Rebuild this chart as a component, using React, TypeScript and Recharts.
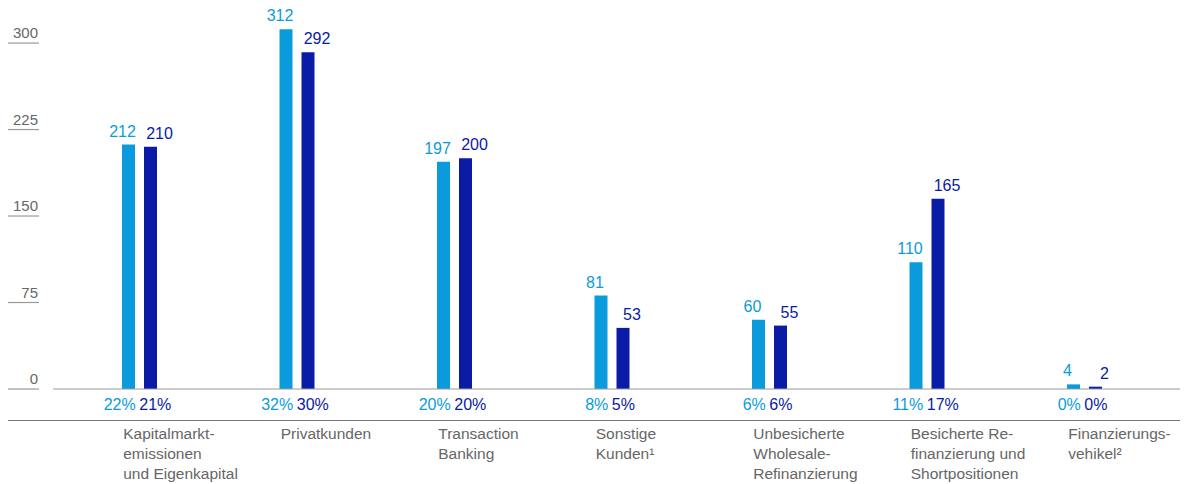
import React from 'react';
import { BarChart, Bar, XAxis, YAxis, LabelList } from 'recharts';

const categories = [
  'Kapitalmarkt-\nemissionen\nund Eigenkapital',
  'Privatkunden',
  'Transaction\nBanking',
  'Sonstige\nKunden¹',
  'Unbesicherte\nWholesale-\nRefinanzierung',
  'Besicherte Re-\nfinanzierung und\nShortpositionen',
  'Finanzierungs-\nvehikel²',
];
const valuesLight = [212, 312, 197, 81, 60, 110, 4];
const valuesDark = [210, 292, 200, 53, 55, 165, 2];
const sharesLight = ['22%', '32%', '20%', '8%', '6%', '11%', '0%'];
const sharesDark = ['21%', '30%', '20%', '5%', '6%', '17%', '0%'];
const yTicks = [0, 75, 150, 225, 300];

const LIGHT = '#0A9BDC';
const DARK = '#0A1BA6';
const GREY = '#666666';
const FONT = '"Liberation Sans", Arial, sans-serif';

const data = categories.map((name, i) => ({
  name,
  light: valuesLight[i],
  dark: valuesDark[i],
}));

const YTick = ({ y, payload }: any) => (
  <g>
    <text x={38} y={y - 5} textAnchor="end" fill={GREY} fontSize={15} fontFamily={FONT}>
      {payload.value}
    </text>
    <line x1={8} x2={39} y1={y} y2={y} stroke="#999" strokeWidth={1.2} />
  </g>
);

const XTick = ({ x, y, payload }: any) => {
  const i = payload.index;
  const lines = String(payload.value).split('\n');
  return (
    <g>
      <text x={x - 4} y={y + 21} textAnchor="end" fill={LIGHT} fontSize={16} fontFamily={FONT}>
        {sharesLight[i]}
      </text>
      <text x={x - 0.5} y={y + 21} textAnchor="start" fill={DARK} fontSize={16} fontFamily={FONT}>
        {sharesDark[i]}
      </text>
      {lines.map((l, k) => (
        <text
          key={k}
          x={x - 16.5}
          y={y + 50 + k * 20}
          textAnchor="start"
          fill={GREY}
          fontSize={15.5}
          fontFamily={FONT}
        >
          {l}
        </text>
      ))}
    </g>
  );
};

const valueLabel = (color: string, dx: number) => (props: any) => {
  const { x, y, width, value } = props;
  return (
    <text
      x={x + width / 2 + dx}
      y={y - 8}
      textAnchor="middle"
      fill={color}
      fontSize={16}
      fontFamily={FONT}
    >
      {value}
    </text>
  );
};

export default function App() {
  return (
    <div style={{ position: 'absolute', left: 0, top: 0, width: 1190, height: 484, background: '#fff' }}>
      <BarChart
        width={1190}
        height={484}
        data={data}
        margin={{ top: 5, right: 10, left: 0, bottom: 0 }}
        barSize={13}
        barGap={9}
      >
        <YAxis
          width={53}
          domain={[0, 333]}
          ticks={yTicks}
          axisLine={false}
          tickLine={false}
          tick={<YTick />}
          interval={0}
        />
        <XAxis
          dataKey="name"
          height={95}
          padding={{ left: 8, right: 16.5 }}
          axisLine={{ stroke: '#999', strokeWidth: 1.2 }}
          tickLine={false}
          tickSize={0}
          tickMargin={0}
          interval={0}
          tick={<XTick />}
        />
        <Bar dataKey="light" fill={LIGHT} isAnimationActive={false}>
          <LabelList dataKey="light" content={valueLabel(LIGHT, -6)} />
        </Bar>
        <Bar dataKey="dark" fill={DARK} isAnimationActive={false}>
          <LabelList dataKey="dark" content={valueLabel(DARK, 9)} />
        </Bar>
      </BarChart>
      <div
        style={{
          position: 'absolute',
          left: 8,
          top: 420,
          width: 1172,
          height: 0,
          borderTop: '1.2px solid #777',
        }}
      />
    </div>
  );
}
